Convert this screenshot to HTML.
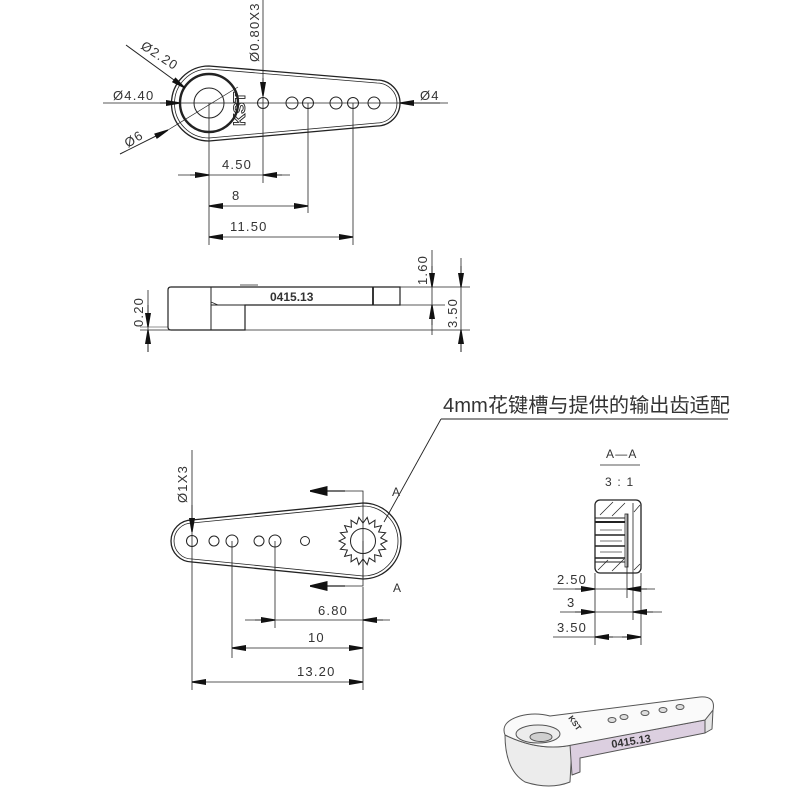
<!DOCTYPE html>
<html><head><meta charset="utf-8"><style>
html,body{margin:0;padding:0;background:#fff;}
svg{display:block;}
text{font-family:"Liberation Sans","DejaVu Sans",sans-serif;fill:#333;}
</style></head><body>
<svg id="s" width="800" height="800" viewBox="0 0 800 800" xmlns="http://www.w3.org/2000/svg">
<defs>
<marker id="a" viewBox="0 0 14 6" refX="14" refY="3" markerWidth="15" markerHeight="6" markerUnits="userSpaceOnUse" orient="auto-start-reverse"><path d="M0,0 L14,2.4 L14,3.6 L0,6z" fill="#111"/></marker>
<marker id="b" viewBox="0 0 14 8" refX="14" refY="4" markerWidth="22" markerHeight="10" markerUnits="userSpaceOnUse" orient="auto"><path d="M0,0 L14,3.4 L14,4.6 L0,8z" fill="#111"/></marker>
</defs>
<g stroke="#222" fill="none" stroke-width="1">
<!-- TOP VIEW -->
<path d="M209,66 L377,80 A23,23 0 0 1 377,126 L209,141 A37.5,37.5 0 0 1 209,66z" stroke-width="1.3"/>
<path d="M209,69 L377,83 A20,20 0 0 1 377,123 L209,138 A34.5,34.5 0 0 1 209,69z" stroke-width="0.8"/>
<circle cx="209" cy="103" r="29" stroke-width="2.4"/>
<circle cx="209" cy="103" r="15"/>
<circle cx="263" cy="103" r="5.5"/><circle cx="292" cy="103" r="6"/><circle cx="308" cy="103" r="5.5"/>
<circle cx="336" cy="103" r="6"/><circle cx="353" cy="103" r="5.5"/><circle cx="374" cy="103" r="6"/>
<line x1="103" y1="103" x2="448" y2="103" stroke-width="0.8"/>
<line x1="160" y1="103" x2="180" y2="103" marker-end="url(#a)"/>
<line x1="440" y1="103" x2="400" y2="103" marker-end="url(#a)"/>
<line x1="126" y1="45" x2="185" y2="88" marker-end="url(#a)"/>
<line x1="120" y1="154" x2="168" y2="130" marker-end="url(#a)"/>
<line x1="168" y1="130" x2="238" y2="87" stroke-width="0.7"/>
<line x1="263" y1="0" x2="263" y2="183" stroke-width="0.8"/>
<line x1="263" y1="78" x2="263" y2="96" marker-end="url(#a)"/>
<line x1="209" y1="103" x2="209" y2="245" stroke-width="0.8"/>
<line x1="308" y1="103" x2="308" y2="213" stroke-width="0.8"/>
<line x1="353" y1="103" x2="353" y2="245" stroke-width="0.8"/>
<line x1="178" y1="175" x2="290" y2="175" stroke-width="0.8"/>
<line x1="190" y1="175" x2="209" y2="175" marker-end="url(#a)"/>
<line x1="282" y1="175" x2="263" y2="175" marker-end="url(#a)"/>
<line x1="209" y1="206" x2="308" y2="206" marker-start="url(#a)" marker-end="url(#a)" stroke-width="0.8"/>
<line x1="209" y1="237" x2="353" y2="237" marker-start="url(#a)" marker-end="url(#a)" stroke-width="0.8"/>
<!-- SIDE VIEW -->
<path d="M171,287 H400 V305 H245 V330 H171 Q168,330 168,327 V290 Q168,287 171,287z" stroke-width="1.2"/>
<line x1="211" y1="287" x2="211" y2="330"/>
<line x1="211" y1="305" x2="245" y2="305"/>
<line x1="211" y1="302" x2="218" y2="305" stroke-width="0.7"/>
<line x1="373" y1="287" x2="373" y2="305" stroke-width="1.8"/>
<line x1="240" y1="285" x2="258" y2="285" stroke-width="0.7"/>
<line x1="400" y1="287" x2="470" y2="287" stroke-width="0.8"/>
<line x1="400" y1="305" x2="445" y2="305" stroke-width="0.8"/>
<line x1="140" y1="330" x2="470" y2="330" stroke-width="0.8"/>
<line x1="140" y1="327" x2="168" y2="327" stroke-width="0.6"/>
<line x1="432" y1="250" x2="432" y2="335" stroke-width="0.8"/>
<line x1="432" y1="266" x2="432" y2="287" marker-end="url(#a)"/>
<line x1="432" y1="325" x2="432" y2="305" marker-end="url(#a)"/>
<line x1="461" y1="258" x2="461" y2="352" stroke-width="0.8"/>
<line x1="461" y1="266" x2="461" y2="287" marker-end="url(#a)"/>
<line x1="461" y1="352" x2="461" y2="330" marker-end="url(#a)"/>
<line x1="148" y1="290" x2="148" y2="352" stroke-width="0.8"/>
<line x1="148" y1="305" x2="148" y2="327" marker-end="url(#a)"/>
<line x1="148" y1="352" x2="148" y2="330" marker-end="url(#a)"/>
<!-- BOTTOM VIEW -->
<path d="M363,503 L192,520 A21,21 0 0 0 192,562 L363,579 A38,38 0 0 0 363,503z" stroke-width="1.3"/>
<path d="M363,506 L192,523 A18,18 0 0 0 192,559 L363,576 A35,35 0 0 0 363,506z" stroke-width="0.8"/>
<circle cx="363" cy="541" r="12.5"/>
<polygon id="gear" points=""/>
<circle cx="192" cy="541" r="5.5"/><circle cx="214" cy="541" r="5"/><circle cx="232" cy="541" r="6"/>
<circle cx="259" cy="541" r="5"/><circle cx="275" cy="541" r="6"/><circle cx="305" cy="541" r="4.5"/>
<polyline points="363,578 363,491 340,491" stroke-width="0.8"/>
<line x1="345" y1="491" x2="310" y2="491" marker-end="url(#b)" stroke-width="1.2"/>
<polyline points="363,541 363,586 340,586" stroke-width="0.8"/>
<line x1="345" y1="586" x2="310" y2="586" marker-end="url(#b)" stroke-width="1.2"/>
<line x1="384" y1="522" x2="441" y2="419" stroke-width="0.9"/>
<line x1="441" y1="419" x2="728" y2="419" stroke-width="1"/>
<line x1="192" y1="450" x2="192" y2="690" stroke-width="0.8"/>
<line x1="192" y1="505" x2="192" y2="532" marker-end="url(#a)"/>
<line x1="275" y1="541" x2="275" y2="628" stroke-width="0.8"/>
<line x1="232" y1="541" x2="232" y2="658" stroke-width="0.8"/>
<line x1="363" y1="587" x2="363" y2="690" stroke-width="0.8"/>
<line x1="245" y1="620" x2="390" y2="620" stroke-width="0.8"/>
<line x1="255" y1="620" x2="275" y2="620" marker-end="url(#a)"/>
<line x1="383" y1="620" x2="363" y2="620" marker-end="url(#a)"/>
<line x1="232" y1="648" x2="363" y2="648" marker-start="url(#a)" marker-end="url(#a)" stroke-width="0.8"/>
<line x1="192" y1="682" x2="363" y2="682" marker-start="url(#a)" marker-end="url(#a)" stroke-width="0.8"/>
<!-- SECTION A-A -->
<line x1="600" y1="465" x2="640" y2="465" stroke-width="0.8"/>
<rect x="595" y="500" width="46" height="73" rx="5" stroke-width="1.3"/>
<line x1="633" y1="503" x2="633" y2="620" stroke-width="0.8"/>
<line x1="627" y1="514" x2="627" y2="598" stroke-width="0.8"/>
<rect x="625" y="514" width="3" height="53" stroke-width="0.8"/>
<g stroke-width="0.7"><line x1="600" y1="515" x2="613" y2="502"/><line x1="612" y1="516" x2="625" y2="503"/><line x1="634" y1="512" x2="640" y2="505"/>
<line x1="598" y1="570" x2="608" y2="560"/><line x1="612" y1="571" x2="624" y2="559"/><line x1="634" y1="570" x2="640" y2="564"/></g>
<line x1="595" y1="518" x2="625" y2="518"/><line x1="595" y1="522" x2="625" y2="522" stroke-width="2"/>
<line x1="595" y1="535" x2="625" y2="535" stroke-width="1.6"/><line x1="595" y1="546" x2="625" y2="546" stroke-width="1.6"/>
<line x1="595" y1="558" x2="625" y2="558" stroke-width="1.6"/><line x1="595" y1="562" x2="625" y2="562"/>
<g stroke="#bbb" stroke-width="2"><line x1="600" y1="530" x2="622" y2="530"/><line x1="600" y1="541" x2="622" y2="541"/><line x1="600" y1="552" x2="622" y2="552"/></g>
<line x1="595" y1="573" x2="595" y2="645" stroke-width="0.8"/>
<line x1="641" y1="573" x2="641" y2="645" stroke-width="0.8"/>
<line x1="553" y1="589" x2="655" y2="589" stroke-width="0.8"/>
<line x1="575" y1="589" x2="595" y2="589" marker-end="url(#a)"/>
<line x1="647" y1="589" x2="627" y2="589" marker-end="url(#a)"/>
<line x1="560" y1="612" x2="662" y2="612" stroke-width="0.8"/>
<line x1="575" y1="612" x2="595" y2="612" marker-end="url(#a)"/>
<line x1="653" y1="612" x2="633" y2="612" marker-end="url(#a)"/>
<line x1="553" y1="637" x2="641" y2="637" stroke-width="0.8"/>
<line x1="613" y1="637" x2="595" y2="637" marker-end="url(#a)"/>
<line x1="622" y1="637" x2="641" y2="637" marker-end="url(#a)"/>
</g>
<!-- 3D render -->
<g stroke="#555" stroke-width="1" stroke-linejoin="round">
<path d="M505,735 Q505,770 525,782 Q550,790 570,782 L572,745 Q540,752 505,735z" fill="#ececec"/>
<path d="M570,745 L572,775 L580,772 L580,758 L705,733 L705,720 Z" fill="#dccfe0"/>
<path d="M705,720 L705,733 L712,729 L713,710z" fill="#e6e6e6"/>
<path d="M505,735 Q500,722 520,716 Q535,712 550,716 L700,697 Q716,696 713,710 L705,720 L572,745 Q540,752 505,735z" fill="#fafafa"/>
<ellipse cx="538" cy="734" rx="22" ry="9" fill="#ececec"/>
<ellipse cx="541" cy="737" rx="11" ry="4.5" fill="#cfcfcf"/>
<g fill="#ddd"><ellipse cx="612" cy="720" rx="4" ry="2.5"/><ellipse cx="624" cy="717" rx="4" ry="2.5"/><ellipse cx="645" cy="713" rx="4" ry="2.5"/><ellipse cx="663" cy="710" rx="4" ry="2.5"/><ellipse cx="680" cy="707" rx="4" ry="2.5"/></g>
</g>
<text x="612" y="748" font-size="11" font-weight="bold" fill="#333" transform="rotate(-9 612 748)">0415.13</text>
<text x="568" y="718" font-size="8" font-weight="bold" fill="#444" transform="rotate(55 568 718)">KST</text>
<!-- TEXTS -->
<g font-size="13" letter-spacing="1.2">
<text x="113" y="100">Ø4.40</text>
<text x="420" y="100">Ø4</text>
<text transform="translate(140,48) rotate(33)">Ø2.20</text>
<text transform="translate(128,148) rotate(-33)">Ø6</text>
<text transform="translate(259,62) rotate(-90)">Ø0.80X3</text>
<text x="222" y="169">4.50</text>
<text x="232" y="200">8</text>
<text x="230" y="231">11.50</text>
<text transform="translate(427,285) rotate(-90)">1.60</text>
<text transform="translate(457,328) rotate(-90)">3.50</text>
<text transform="translate(143,327) rotate(-90)">0.20</text>
<text transform="translate(187,503) rotate(-90)">Ø1X3</text>
<text x="318" y="615">6.80</text>
<text x="308" y="642">10</text>
<text x="297" y="676">13.20</text>
<text x="392" y="496" font-size="12">A</text>
<text x="393" y="592" font-size="12">A</text>
<text x="606" y="458" font-size="12">A—A</text>
<text x="605" y="486" font-size="12">3 : 1</text>
<text x="557" y="584">2.50</text>
<text x="567" y="607">3</text>
<text x="557" y="632">3.50</text>
</g>
<text x="245" y="126" font-size="17" font-weight="bold" stroke="#222" stroke-width="0.9" transform="rotate(-90 245 126)" style="fill:none">KST</text>
<text x="270" y="301" font-size="12" font-weight="bold" fill="#444">0415.13</text>
<text x="443" y="412" font-size="20" textLength="287" lengthAdjust="spacingAndGlyphs" style="font-family:'Liberation Sans','Noto Sans CJK SC',sans-serif" fill="#444">4mm花键槽与提供的输出齿适配</text>
</svg>
<script>
var p=[],n=18,cx=363,cy=541;
for(var i=0;i<n*2;i++){var r=i%2?18:24,t=i*Math.PI/n;p.push((cx+r*Math.cos(t)).toFixed(1)+','+(cy+r*Math.sin(t)).toFixed(1));}
document.getElementById('gear').setAttribute('points',p.join(' '));
</script>
</body></html>
